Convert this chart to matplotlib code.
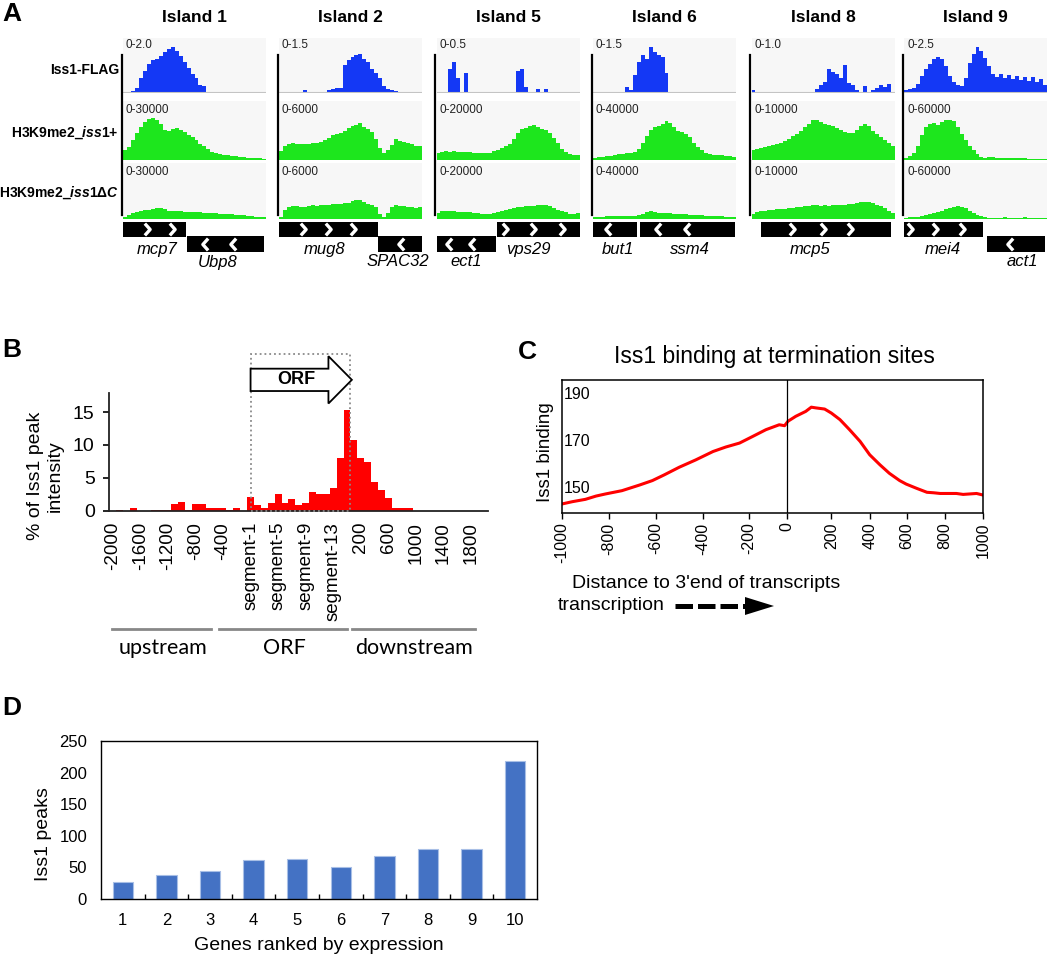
#!/usr/bin/env python3
"""
Iss1 figure: genome tracks (A), peak distribution around ORFs (B),
metagene at termination sites (C) and Iss1 peaks vs expression (D).
"""

import numpy as np
import matplotlib
matplotlib.use('Agg')
import matplotlib.pyplot as plt
from matplotlib.path import Path
from matplotlib.patches import Rectangle, FancyArrow

plt.rcParams['font.family'] = ['Liberation Sans', 'DejaVu Sans']
plt.rcParams['mathtext.fontset'] = 'custom'
plt.rcParams['mathtext.rm'] = 'Liberation Sans:bold'
plt.rcParams['mathtext.it'] = 'Liberation Sans:italic:bold'

W, H = 1050, 956

# ---------------- Panel A: browser tracks ----------------
islands = ['Island 1', 'Island 2', 'Island 5', 'Island 6', 'Island 8', 'Island 9']
flag_range = ['0-2.0', '0-1.5', '0-0.5', '0-1.5', '0-1.0', '0-2.5']
me2_range = ['0-30000', '0-6000', '0-20000', '0-40000', '0-10000', '0-60000']
track_names = ['Iss1-FLAG', r'H3K9me2_$\mathit{iss1}$+', r'H3K9me2_$\mathit{iss1ΔC}$']

# signal as fraction of the displayed data range (36 bins per island)
flag_signal = [
    [0, 0, 0.03, 0.1, 0.3, 0.45, 0.6, 0.68, 0.7, 0.76, 0.85, 0.92, 0.95, 0.88, 0.76, 0.65, 0.52, 0.4,
     0.3, 0.15, 0.13, 0, 0, 0, 0, 0, 0, 0, 0, 0, 0, 0, 0, 0, 0, 0],
    [0, 0, 0, 0, 0, 0, 0.05, 0, 0, 0, 0, 0, 0.06, 0.08, 0.1, 0.1, 0.58, 0.68, 0.74, 0.8, 0.82, 0.7,
     0.64, 0.5, 0.42, 0.3, 0.13, 0.08, 0.06, 0.03, 0, 0, 0, 0, 0, 0],
    [0, 0, 0, 0.5, 0.64, 0.3, 0, 0.41, 0, 0, 0, 0, 0, 0, 0, 0, 0, 0, 0, 0, 0.45, 0.5, 0.12, 0, 0,
     0.08, 0, 0.07, 0, 0, 0, 0, 0, 0, 0, 0],
    [0, 0, 0, 0, 0, 0, 0, 0, 0.12, 0.05, 0.37, 0.65, 0.8, 0.7, 0.95, 0.85, 0.8, 0.75, 0.42, 0, 0, 0,
     0, 0, 0, 0, 0, 0, 0, 0, 0, 0, 0, 0, 0, 0],
    [0.05, 0, 0, 0, 0, 0, 0, 0, 0, 0, 0, 0, 0, 0, 0, 0, 0.08, 0.15, 0.22, 0.5, 0.44, 0.4, 0.3, 0.57,
     0.2, 0.16, 0.05, 0, 0.13, 0, 0.05, 0.1, 0.16, 0.12, 0.18, 0],
    [0.05, 0.07, 0.1, 0.18, 0.35, 0.5, 0.6, 0.7, 0.74, 0.7, 0.55, 0.35, 0.22, 0.16, 0.13, 0.3, 0.62,
     0.82, 0.95, 0.88, 0.72, 0.55, 0.4, 0.32, 0.38, 0.3, 0.36, 0.28, 0.34, 0.26, 0.33, 0.25, 0.32,
     0.22, 0.28, 0.15],
]
wt_signal = [
    [0.2, 0.26, 0.42, 0.58, 0.7, 0.8, 0.87, 0.89, 0.85, 0.76, 0.63, 0.62, 0.65, 0.67, 0.64, 0.6, 0.52,
     0.48, 0.43, 0.34, 0.28, 0.22, 0.16, 0.13, 0.11, 0.1, 0.09, 0.07, 0.07, 0.06, 0.05, 0.04, 0.04,
     0.03, 0.03, 0.02],
    [0.18, 0.3, 0.34, 0.35, 0.34, 0.33, 0.34, 0.33, 0.36, 0.36, 0.38, 0.42, 0.46, 0.52, 0.55, 0.57,
     0.62, 0.67, 0.71, 0.75, 0.79, 0.7, 0.65, 0.6, 0.45, 0.24, 0.15, 0.2, 0.32, 0.44, 0.4, 0.37, 0.36,
     0.33, 0.3, 0.28],
    [0.15, 0.17, 0.18, 0.17, 0.18, 0.17, 0.16, 0.16, 0.16, 0.15, 0.14, 0.13, 0.13, 0.15, 0.18, 0.21,
     0.24, 0.28, 0.33, 0.45, 0.58, 0.65, 0.68, 0.72, 0.74, 0.7, 0.65, 0.63, 0.58, 0.47, 0.35, 0.22,
     0.16, 0.12, 0.1, 0.1],
    [0.04, 0.05, 0.06, 0.07, 0.08, 0.1, 0.11, 0.12, 0.13, 0.15, 0.17, 0.22, 0.35, 0.5, 0.63, 0.69,
     0.72, 0.77, 0.82, 0.78, 0.7, 0.62, 0.6, 0.55, 0.48, 0.36, 0.26, 0.2, 0.15, 0.12, 0.1, 0.09, 0.09,
     0.08, 0.07, 0.06],
    [0.21, 0.23, 0.25, 0.27, 0.3, 0.32, 0.34, 0.36, 0.4, 0.45, 0.5, 0.55, 0.61, 0.7, 0.76, 0.86, 0.85,
     0.8, 0.76, 0.74, 0.71, 0.68, 0.64, 0.6, 0.57, 0.58, 0.64, 0.71, 0.77, 0.72, 0.62, 0.55, 0.48,
     0.42, 0.36, 0.3],
    [0.04, 0.08, 0.14, 0.28, 0.52, 0.7, 0.77, 0.78, 0.74, 0.8, 0.84, 0.86, 0.83, 0.7, 0.55, 0.42, 0.3,
     0.2, 0.12, 0.06, 0.04, 0.05, 0.06, 0.04, 0.03, 0.03, 0.03, 0.03, 0.04, 0.03, 0.03, 0.02, 0.02,
     0.02, 0.02, 0.02],
]
dc_signal = [
    [0.04, 0.08, 0.11, 0.14, 0.16, 0.18, 0.19, 0.21, 0.22, 0.23, 0.2, 0.17, 0.16, 0.16, 0.16, 0.15,
     0.15, 0.14, 0.14, 0.13, 0.12, 0.12, 0.11, 0.11, 0.1, 0.1, 0.09, 0.09, 0.08, 0.08, 0.07, 0.06,
     0.05, 0.04, 0.04, 0.03],
    [0.04, 0.18, 0.24, 0.27, 0.26, 0.25, 0.24, 0.26, 0.28, 0.27, 0.29, 0.28, 0.3, 0.31, 0.31, 0.32,
     0.33, 0.34, 0.37, 0.4, 0.4, 0.36, 0.32, 0.28, 0.24, 0.1, 0.04, 0.12, 0.25, 0.28, 0.27, 0.26, 0.24,
     0.24, 0.23, 0.24],
    [0.12, 0.16, 0.17, 0.17, 0.16, 0.15, 0.14, 0.13, 0.13, 0.12, 0.11, 0.1, 0.09, 0.1, 0.12, 0.14,
     0.16, 0.18, 0.2, 0.22, 0.24, 0.25, 0.27, 0.26, 0.27, 0.3, 0.29, 0.28, 0.27, 0.22, 0.19, 0.16,
     0.13, 0.1, 0.09, 0.12],
    [0.03, 0.04, 0.04, 0.05, 0.05, 0.05, 0.05, 0.05, 0.05, 0.06, 0.06, 0.07, 0.1, 0.14, 0.16, 0.13,
     0.12, 0.12, 0.11, 0.11, 0.1, 0.1, 0.09, 0.09, 0.08, 0.08, 0.07, 0.07, 0.06, 0.06, 0.05, 0.05,
     0.05, 0.04, 0.04, 0.04],
    [0.1, 0.13, 0.16, 0.17, 0.18, 0.19, 0.2, 0.2, 0.21, 0.22, 0.23, 0.24, 0.25, 0.26, 0.27, 0.28,
     0.28, 0.27, 0.28, 0.27, 0.28, 0.28, 0.29, 0.3, 0.31, 0.31, 0.33, 0.35, 0.36, 0.35, 0.33, 0.3,
     0.27, 0.22, 0.17, 0.12],
    [0.02, 0.03, 0.03, 0.04, 0.05, 0.07, 0.09, 0.11, 0.13, 0.16, 0.2, 0.22, 0.24, 0.26, 0.25, 0.22,
     0.17, 0.12, 0.08, 0.05, 0.03, 0.02, 0.02, 0.02, 0.02, 0.03, 0.02, 0.02, 0.02, 0.02, 0.03, 0.02,
     0.02, 0.02, 0.02, 0.02],
]

# gene models, in fraction of the island window
gene_island = [0, 0, 1, 1, 2, 2, 3, 3, 4, 5, 5]
gene_name = ['mcp7', 'Ubp8', 'mug8', 'SPAC32', 'ect1', 'vps29', 'but1', 'ssm4', 'mcp5', 'mei4', 'act1']
gene_start = [0.0, 0.445, 0.0, 0.69, 0.0, 0.42, 0.0, 0.33, 0.065, 0.0, 0.58]
gene_end = [0.44, 0.985, 0.69, 1.0, 0.415, 1.0, 0.305, 0.99, 0.975, 0.55, 0.985]
gene_row = [0, 1, 0, 1, 1, 0, 0, 0, 0, 0, 1]
gene_strand = ['+', '-', '+', '-', '-', '+', '-', '-', '+', '+', '-']
gene_chevrons = [[0.17, 0.34], [0.57, 0.77], [0.17, 0.34, 0.52], [0.85], [0.09, 0.245],
                 [0.48, 0.675, 0.875], [0.105], [0.455, 0.655], [0.28, 0.5, 0.69],
                 [0.04, 0.22, 0.405], [0.74]]
gene_label_x = [0.236, 0.664, 0.32, 0.832, 0.21, 0.64, 0.175, 0.68, 0.41, 0.27, 0.83]

# ---------------- Panel B ----------------
b_upstream = list(range(-2000, 0, 100))
b_segments = ['segment-%d' % k for k in range(1, 16)]
b_downstream = list(range(100, 2100, 100))
b_categories = [str(v) for v in b_upstream] + b_segments + [str(v) for v in b_downstream]
b_up_values = [0, 0.15, 0, 0.36, 0, 0, 0.15, 0.15, 0.15, 1.0, 1.25, 0.15, 0.95, 0.95, 0.36, 0.36,
               0.36, 0.15, 0.4, 0]
b_orf_values = [2.1, 0.9, 0.36, 1.2, 2.6, 1.2, 1.8, 0.9, 1.2, 2.9, 2.6, 2.6, 3.5, 8.0, 15.3]
b_down_values = [10.8, 8.0, 7.4, 4.4, 3.2, 2.0, 0.4, 0.4, 0.4, 0, 0, 0, 0, 0, 0, 0, 0, 0, 0, 0]
b_values = b_up_values + b_orf_values + b_down_values

# ---------------- Panel C ----------------
c_distance = [-1000, -955, -900, -855, -815, -745, -670, -615, -565, -500, -430, -355, -300, -240,
              -180, -110, -40, -12, 5, 40, 85, 110, 130, 170, 200, 245, 295, 350, 400, 455, 505,
              560, 595, 650, 705, 740, 775, 860, 895, 965, 1000]
c_binding = [142.6, 143.6, 144.6, 146.0, 146.9, 148.3, 150.7, 152.6, 155.0, 158.3, 161.4, 165.0,
             166.9, 168.6, 171.4, 174.3, 176.4, 176.0, 177.9, 180.0, 182.1, 183.9, 183.6, 183.1,
             181.4, 178.6, 174.3, 169.3, 163.6, 159.3, 155.7, 152.6, 151.1, 149.3, 147.6, 147.4,
             147.1, 147.1, 146.7, 147.1, 146.4]
# the original axis is not linear: tick spacing as drawn
c_ticks = [-1000, -800, -600, -400, -200, 0, 200, 400, 600, 800, 1000]
c_tick_pos = [68, 210, 350, 490, 628, 742, 875, 990, 1102, 1215, 1330]

# ---------------- Panel D ----------------
d_rank = [1, 2, 3, 4, 5, 6, 7, 8, 9, 10]
d_peaks = [27, 38, 44, 61, 64, 50, 68, 79, 79, 219]


def px_axes(x0, y0, x1, y1):
    return fig.add_axes([x0 / W, 1 - y1 / H, (x1 - x0) / W, (y1 - y0) / H])


fig = plt.figure(figsize=(W / 100, H / 100), dpi=100)
ov = fig.add_axes([0, 0, 1, 1])
ov.set_xlim(0, W)
ov.set_ylim(H, 0)
ov.axis('off')
ov.set_zorder(10)

for letter, (lx, ly) in zip('ABCD', [(12, 14), (12, 350), (527, 352), (12, 708)]):
    ov.text(lx, ly, letter, fontsize=19, fontweight='bold', ha='center', va='center')

# ---- A ----
island_left = [123, 279, 436.5, 593, 751.5, 904]
TRACK_W = 143
row_bg = [(38, 92.5), (101, 159.5), (163, 218.5)]
row_top = [45, 113, 172]
row_label_y = [45, 110, 172]
row_name_y = [70, 133, 193]
gene_row_y = [(221.5, 237), (236, 251.5)]
gene_text_y = [249, 262]

chev_r = Path([(-0.45, 1.0), (0.45, 0.0), (-0.45, -1.0)], [Path.MOVETO, Path.LINETO, Path.LINETO])
chev_l = Path([(0.45, 1.0), (-0.45, 0.0), (0.45, -1.0)], [Path.MOVETO, Path.LINETO, Path.LINETO])

for r, name in enumerate(track_names):
    ov.text(119, row_name_y[r], name, fontsize=10, fontweight='bold', ha='right', va='center')

rows = [(flag_signal, flag_range, '#1438f5'), (wt_signal, me2_range, '#1de61d'),
        (dc_signal, me2_range, '#1de61d')]
for i, title in enumerate(islands):
    left = island_left[i]
    ov.text(left + TRACK_W / 2, 17, title, fontsize=12.5, fontweight='bold', ha='center', va='center')
    for r, (signal, ranges, color) in enumerate(rows):
        bg0, base = row_bg[r]
        ax = px_axes(left, bg0, left + TRACK_W, base)
        vals = signal[i]
        ax.bar(np.arange(len(vals)), vals, width=1.0, align='edge', color=color, linewidth=0)
        ax.set_xlim(0, len(vals))
        ax.set_ylim(0, (base - bg0) / (base - row_top[r]))
        ax.set_facecolor('#f7f7f7')
        for s in ax.spines.values():
            s.set_visible(False)
        ax.set_xticks([])
        ax.set_yticks([])
        if r == 0:
            ax.axhline(0, color='#c4c4c4', lw=1.5)
        ov.text(left + 3, row_label_y[r], ranges[i], fontsize=8.5, ha='left', va='center', color='#222222')
    ov.plot([left - 1.5, left - 1.5], [55, 215], color='black', lw=1.6)

for g, name in enumerate(gene_name):
    left = island_left[gene_island[g]]
    x0 = left + gene_start[g] * TRACK_W
    x1 = left + gene_end[g] * TRACK_W
    y0, y1 = gene_row_y[gene_row[g]]
    ov.add_patch(Rectangle((x0, y0), x1 - x0, y1 - y0, color='black', lw=0))
    xs = [left + c * TRACK_W for c in gene_chevrons[g]]
    ov.plot(xs, [(y0 + y1) / 2] * len(xs), ls='none',
            marker=chev_r if gene_strand[g] == '+' else chev_l,
            ms=8.5, mfc='none', mec='white', mew=2.4)
    ov.text(left + gene_label_x[g] * TRACK_W, gene_text_y[gene_row[g]], name,
            fontsize=12, style='italic', ha='center', va='center')

# ---- B ----
axB = px_axes(109.3, 393, 488.3, 510.7)
xb = np.arange(len(b_values))
axB.bar(xb, b_values, width=1.0, color='#ff0000', linewidth=0)
axB.set_xlim(-0.5, len(b_values) - 0.5)
axB.set_ylim(0, 17.9)
axB.set_yticks([0, 5, 10, 15])
axB.set_xticks(xb[::4])
axB.set_xticklabels(b_categories[::4], rotation=90)
axB.spines['top'].set_visible(False)
axB.spines['right'].set_visible(False)
for s in ['left', 'bottom']:
    axB.spines[s].set_linewidth(1.3)
    axB.spines[s].set_color('#222222')
axB.tick_params(axis='y', length=4.5, width=1.2, labelsize=14, pad=6)
axB.tick_params(axis='x', length=0, labelsize=13.5, pad=8)

axB.add_patch(Rectangle((20, 0), 14.5, 23.9, fill=False, ls=':', lw=1.3, ec='#8a8a8a',
                        clip_on=False, zorder=5))
axB.add_patch(FancyArrow(20, 19.9, 14.7, 0, width=3.4, head_width=7.2, head_length=3.4,
                         length_includes_head=True, fc='white', ec='black', lw=1.3,
                         clip_on=False, zorder=6))
axB.text(26.7, 19.9, 'ORF', fontsize=13, fontweight='bold', ha='center', va='center', zorder=7)

ov.text(45, 476, '% of Iss1 peak\nintensity', rotation=90, fontsize=14, ha='center', va='center',
        multialignment='center', linespacing=1.2)
for (gx0, gx1), lab in zip([(112, 211), (219, 347), (352, 475)], ['upstream', 'ORF', 'downstream']):
    ov.plot([gx0, gx1], [629, 629], color='#888888', lw=2)
    ov.text((gx0 + gx1) / 2 + 1, 648, lab, fontsize=15.5, family=['Lato', 'DejaVu Sans'],
            ha='center', va='center')

# ---- C ----
c_slope_lo = (c_tick_pos[1] - c_tick_pos[0]) / (c_ticks[1] - c_ticks[0])
c_slope_hi = (c_tick_pos[-1] - c_tick_pos[-2]) / (c_ticks[-1] - c_ticks[-2])


def c_forward(x):
    x = np.asarray(x, dtype=float)
    y = np.interp(x, c_ticks, c_tick_pos)
    y = np.where(x < c_ticks[0], c_tick_pos[0] + (x - c_ticks[0]) * c_slope_lo, y)
    y = np.where(x > c_ticks[-1], c_tick_pos[-1] + (x - c_ticks[-1]) * c_slope_hi, y)
    return y


def c_inverse(y):
    y = np.asarray(y, dtype=float)
    x = np.interp(y, c_tick_pos, c_ticks)
    x = np.where(y < c_tick_pos[0], c_ticks[0] + (y - c_tick_pos[0]) / c_slope_lo, x)
    x = np.where(y > c_tick_pos[-1], c_ticks[-1] + (y - c_tick_pos[-1]) / c_slope_hi, x)
    return x


axC = px_axes(561.7, 379.5, 983.3, 512.7)
axC.set_xscale('function', functions=(c_forward, c_inverse))
axC.plot(c_distance, c_binding, color='#ff0000', lw=2.2)
axC.axvline(0, color='black', lw=0.9)
axC.set_xlim(-1000, 1000)
axC.set_ylim(138.9, 195.7)
axC.set_xticks(c_ticks)
axC.set_xticklabels([str(t) for t in c_ticks], rotation=90)
axC.set_yticks([150, 170, 190])
axC.tick_params(axis='x', length=4, width=1, labelsize=11.5, pad=3)
axC.tick_params(axis='y', length=0, labelsize=11.5, pad=-1.5)
for lbl in axC.get_yticklabels():
    lbl.set_horizontalalignment('left')
for s in axC.spines.values():
    s.set_linewidth(1.1)
ov.text(774, 357, 'Iss1 binding at termination sites', fontsize=16.5, ha='center', va='center')
ov.text(546, 452, 'Iss1 binding', rotation=90, fontsize=13.5, ha='center', va='center')
ov.text(706, 584, "Distance to 3'end of transcripts", fontsize=14, ha='center', va='center')
ov.text(558, 606, 'transcription', fontsize=14, ha='left', va='center')
ov.plot([675, 747], [606, 606], color='black', lw=3.6, dashes=(3.5, 1.0), dash_capstyle='butt')
ov.fill([745, 774, 745], [597, 606, 615], color='black', lw=0)

# ---- D ----
axD = px_axes(101, 741, 537, 899)
axD.bar(d_rank, d_peaks, width=0.47, color='#4472c4', edgecolor='#a8bfe6', linewidth=0.8)
axD.set_xlim(0.5, 10.5)
axD.set_ylim(0, 250)
axD.set_yticks([0, 50, 100, 150, 200, 250])
axD.set_xticks(d_rank)
axD.set_xticks(np.arange(1.5, 10.5, 1), minor=True)
axD.tick_params(axis='x', which='major', length=0, labelsize=12, pad=10)
axD.tick_params(axis='x', which='minor', direction='in', length=3.5, width=1)
axD.tick_params(axis='y', length=0, labelsize=12, pad=10)
for s in axD.spines.values():
    s.set_linewidth(1.0)
ov.text(43, 834, 'Iss1 peaks', rotation=90, fontsize=14, ha='center', va='center')
ov.text(319, 945, 'Genes ranked by expression', fontsize=14, ha='center', va='center')

fig.savefig('out.png', dpi=100)
